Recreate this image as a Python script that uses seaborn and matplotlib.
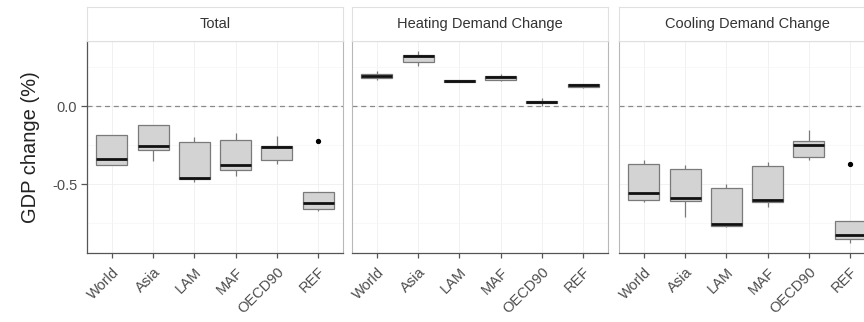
import matplotlib
matplotlib.use("Agg")
import matplotlib.pyplot as plt
import seaborn as sns
import pandas as pd
from matplotlib.ticker import FixedLocator

# ---- data ----
regions = ["World", "Asia", "LAM", "MAF", "OECD90", "REF"]
panels = ["Total", "Heating Demand Change", "Cooling Demand Change"]

# five values per region (one per scenario run)
total_vals = [
    [-0.380, -0.378, -0.342, -0.186, -0.184],   # World
    [-0.353, -0.284, -0.254, -0.124, -0.122],   # Asia
    [-0.485, -0.468, -0.462, -0.233, -0.200],   # LAM
    [-0.447, -0.410, -0.378, -0.218, -0.171],   # MAF
    [-0.372, -0.346, -0.260, -0.254, -0.192],   # OECD90
    [-0.670, -0.660, -0.624, -0.549, -0.222],   # REF
]
heating_vals = [
    [0.167, 0.177, 0.194, 0.205, 0.224],
    [0.254, 0.284, 0.320, 0.327, 0.355],
    [0.152, 0.155, 0.162, 0.168, 0.170],
    [0.160, 0.169, 0.184, 0.194, 0.205],
    [0.003, 0.019, 0.026, 0.032, 0.049],
    [0.118, 0.122, 0.133, 0.141, 0.143],
]
cooling_vals = [
    [-0.613, -0.600, -0.558, -0.370, -0.348],
    [-0.709, -0.607, -0.590, -0.406, -0.378],
    [-0.775, -0.771, -0.758, -0.526, -0.498],
    [-0.650, -0.618, -0.603, -0.385, -0.356],
    [-0.348, -0.329, -0.250, -0.224, -0.156],
    [-0.880, -0.855, -0.825, -0.737, -0.374],
]
panel_vals = [total_vals, heating_vals, cooling_vals]

y_label = "GDP change (%)"
y_ticks = [-0.5, 0.0]
y_tick_labels = ["-0.5", "0.0"]

# ---- style ----
sns.set_style("white")
plt.rcParams["font.family"] = ["Liberation Sans", "DejaVu Sans"]
plt.rcParams["axes.unicode_minus"] = False
plt.rcParams["xtick.bottom"] = True
plt.rcParams["ytick.left"] = True

W, H = 864, 322
fig = plt.figure(figsize=(W / 100, H / 100), dpi=100)

lefts = [87, 352, 619]
pw = 256
top_px, bot_px, strip_top = 41, 253, 7

box_face = "#d3d3d3"
box_edge = "#7a7a7a"
tick_col = "#555555"

for i, (name, vals) in enumerate(zip(panels, panel_vals)):
    rows = []
    for r, vs in zip(regions, vals):
        for v in vs:
            rows.append({"region": r, "value": v})
    df = pd.DataFrame(rows)

    ax = fig.add_axes([lefts[i] / W, 1 - bot_px / H, pw / W, (bot_px - top_px) / H])
    ax.set_axisbelow(True)
    ax.axhline(0, color="#8a8a8a", linestyle=(0, (4, 3)), linewidth=0.9, zorder=1)

    sns.boxplot(
        data=df, x="region", y="value", order=regions, ax=ax,
        color=box_face, saturation=1, width=0.75, linecolor=box_edge,
        linewidth=0.9, whis=1.5, showcaps=False,
        medianprops=dict(color="#111111", linewidth=2.0),
        flierprops=dict(marker="o", markerfacecolor="black",
                        markeredgecolor="black", markersize=2.8),
        zorder=2,
    )
    ax.set_xlim(-0.6, 5.6)
    ax.set_ylim(-0.942, 0.417)
    ax.set_xlabel("")
    ax.set_ylabel("")
    ax.set_yticks(y_ticks)
    ax.yaxis.set_minor_locator(FixedLocator([-0.75, -0.25, 0.25]))
    ax.tick_params(axis="y", which="minor", length=0)
    ax.set_xticks(range(len(regions)))
    ax.set_xticklabels(regions, rotation=45, ha="right", rotation_mode="anchor",
                       fontsize=10.5, color="#4d4d4d")
    ax.tick_params(axis="x", which="major", length=3.5, width=0.9,
                   color=tick_col, pad=5, bottom=True)
    # faint grid (major + minor), drawn after seaborn's categorical adjustments
    ax.grid(True, which="major", axis="both", color="#efefef", linewidth=0.6)
    ax.grid(True, which="minor", axis="y", color="#f5f5f5", linewidth=0.5)

    for s in ["top", "right", "left"]:
        ax.spines[s].set_color("#b8b8b8")
        ax.spines[s].set_linewidth(0.8)
    ax.spines["bottom"].set_color("#555555")
    ax.spines["bottom"].set_linewidth(0.9)
    if i == 0:
        ax.spines["left"].set_color("#555555")
        ax.spines["left"].set_linewidth(0.9)
        ax.set_yticklabels(y_tick_labels, fontsize=10.5, color="#4d4d4d")
        ax.tick_params(axis="y", which="major", length=4, width=0.9,
                       color=tick_col, pad=3, left=True)
        ax.set_ylabel(y_label, fontsize=14.5, color="#222222", labelpad=9)
    else:
        ax.tick_params(axis="y", left=False, labelleft=False)

    # strip
    sax = fig.add_axes([lefts[i] / W, 1 - top_px / H, pw / W, (top_px - strip_top) / H])
    sax.set_xticks([])
    sax.set_yticks([])
    sax.tick_params(left=False, bottom=False)
    sax.set_facecolor("white")
    for s in sax.spines.values():
        s.set_color("#e0e0e0")
        s.set_linewidth(0.8)
    sax.text(0.5, 0.5, name, ha="center", va="center", fontsize=10.5,
             color="#333333", transform=sax.transAxes)

fig.savefig("out.png", dpi=100)
